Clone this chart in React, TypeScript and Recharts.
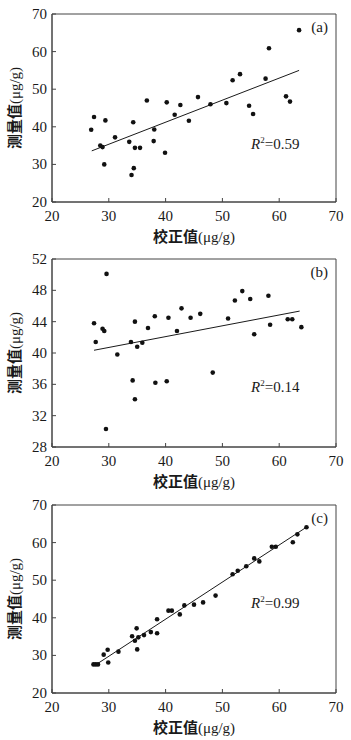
import React from "react"
import { ScatterChart, Scatter, XAxis, YAxis, ReferenceArea, ReferenceLine } from "recharts"

// tick values
const xTicks = [20, 30, 40, 50, 60, 70]
const yTicksA = [20, 30, 40, 50, 60, 70]
const yTicksB = [28, 32, 36, 40, 44, 48, 52]
const yTicksC = [20, 30, 40, 50, 60, 70]

// (a) calibrated vs measured
const calibA = [26.9, 27.4, 28.5, 28.9, 29.2, 29.4, 31.1, 33.6, 34.3, 34.0, 34.4, 34.6, 35.5, 36.7, 38.0, 37.9, 39.9, 40.2, 41.6, 42.6, 44.1, 45.7, 47.9, 50.7, 51.8, 53.1, 54.7, 55.4, 57.6, 58.2, 61.2, 61.9, 63.5]
const measA = [39.2, 42.6, 35.0, 34.6, 30.0, 41.7, 37.2, 36.0, 41.2, 27.2, 29.0, 34.4, 34.4, 47.0, 39.3, 36.2, 33.1, 46.5, 43.2, 45.8, 41.6, 47.9, 46.0, 46.3, 52.4, 54.0, 45.6, 43.4, 52.8, 60.9, 48.1, 46.7, 65.7]
const fitA = [{ x: 27.0, y: 33.6 }, { x: 63.5, y: 55.0 }]

// (b)
const calibB = [27.4, 27.7, 28.9, 29.2, 29.6, 29.5, 31.5, 33.9, 34.6, 34.2, 34.6, 35.0, 35.9, 36.9, 38.1, 38.2, 40.2, 40.5, 42.0, 42.8, 44.4, 46.1, 48.3, 51.0, 52.2, 53.5, 54.9, 55.6, 58.1, 58.4, 61.5, 62.3, 63.9]
const measB = [43.8, 41.4, 43.1, 42.8, 50.1, 30.3, 39.8, 41.4, 44.0, 36.5, 34.1, 40.8, 41.3, 43.2, 44.7, 36.2, 36.4, 44.5, 42.8, 45.7, 44.5, 45.0, 37.5, 44.4, 46.7, 47.9, 46.9, 42.4, 47.3, 43.6, 44.3, 44.3, 43.3]
const fitB = [{ x: 27.4, y: 40.35 }, { x: 63.6, y: 45.35 }]

// (c)
const calibC = [27.3, 27.7, 28.1, 29.1, 29.8, 29.9, 31.7, 34.1, 34.6, 34.9, 35.0, 35.2, 36.2, 37.4, 38.5, 38.5, 40.5, 41.1, 42.5, 43.3, 45.0, 46.6, 48.8, 51.8, 52.7, 54.2, 55.6, 56.5, 58.7, 59.4, 62.4, 63.2, 64.8]
const measC = [27.6, 27.6, 27.6, 30.2, 31.5, 28.1, 31.0, 35.1, 33.9, 37.2, 31.6, 34.8, 35.4, 36.2, 39.6, 35.9, 41.9, 41.9, 40.9, 43.3, 43.5, 44.1, 45.9, 51.6, 52.5, 53.7, 55.8, 55.0, 58.9, 58.9, 60.1, 62.2, 64.1]
const fitC = [{ x: 27.8, y: 27.6 }, { x: 65.0, y: 64.3 }]

const W = 351
const H = 245
const PLOT_LEFT = 52
const PLOT_TOP = 14
const PLOT_H = 188
const INK = "#1a1a1a"
const FRAME = "#444"
const SERIF = "'Liberation Serif', 'Times New Roman', 'DejaVu Serif', serif"
const CJK = "'Noto Sans CJK SC', sans-serif"

function toPoints(xs: number[], ys: number[]) {
  return xs.map((x, i) => ({ x, y: ys[i] }))
}

function XTick(props: any) {
  const { x, y, payload } = props
  return (
    <g>
      <line x1={x} y1={y} x2={x} y2={y - 4} stroke={FRAME} />
      <text x={x} y={y + 19} textAnchor="middle" fontSize={15} fontFamily={SERIF} fill={INK}>
        {payload.value}
      </text>
    </g>
  )
}

function YTick(props: any) {
  const { x, y, payload } = props
  return (
    <g>
      <line x1={x} y1={y} x2={x + 4} y2={y} stroke={FRAME} />
      <text x={x - 5} y={y + 5} textAnchor="end" fontSize={15} fontFamily={SERIF} fill={INK}>
        {payload.value}
      </text>
    </g>
  )
}

// axis title: Chinese part in CJK font, unit in serif
function Title({ cn, x, y, rotate }: { cn: string; x: number; y: number; rotate?: boolean }) {
  return (
    <text
      x={x}
      y={y}
      textAnchor="middle"
      fontSize={15}
      fill={INK}
      transform={rotate ? `rotate(-90 ${x} ${y})` : undefined}
    >
      <tspan fontFamily={CJK} fontWeight={600}>{cn}</tspan>
      <tspan fontFamily={SERIF}>(μg/g)</tspan>
    </text>
  )
}

interface PanelProps {
  xs: number[]
  ys: number[]
  fit: { x: number; y: number }[]
  yDomain: [number, number]
  yTicks: number[]
  tag: string
  r2: string
  r2Y: number
}

function Panel({ xs, ys, fit, yDomain, yTicks, tag, r2, r2Y }: PanelProps) {
  const data = toPoints(xs, ys)
  return (
    <ScatterChart width={W} height={H} margin={{ top: PLOT_TOP, right: 15, bottom: 0, left: 0 }}>
      <XAxis
        type="number"
        dataKey="x"
        domain={[20, 70]}
        ticks={xTicks}
        interval={0}
        tickSize={0}
        tickMargin={0}
        tickLine={false}
        axisLine={{ stroke: FRAME }}
        tick={(p: any) => <XTick {...p} />}
        height={H - PLOT_TOP - PLOT_H}
        allowDataOverflow
      />
      <YAxis
        type="number"
        dataKey="y"
        domain={yDomain}
        ticks={yTicks}
        interval={0}
        tickSize={0}
        tickMargin={0}
        tickLine={false}
        axisLine={{ stroke: FRAME }}
        tick={(p: any) => <YTick {...p} />}
        width={PLOT_LEFT}
        allowDataOverflow
      />
      <ReferenceArea x1={20} x2={70} y1={yDomain[0]} y2={yDomain[1]} fill="none" stroke={FRAME} strokeWidth={1} />
      <ReferenceLine segment={fit} stroke={INK} strokeWidth={1} />
      <Scatter
        data={data}
        isAnimationActive={false}
        shape={(p: any) => <circle cx={p.cx} cy={p.cy} r={2.3} fill="#111" />}
      />
      <text x={328} y={32} textAnchor="end" fontSize={15} fontFamily={SERIF} fill={INK}>
        {tag}
      </text>
      <text x={251} y={r2Y} fontSize={15} fontFamily={SERIF} fill={INK}>
        <tspan fontStyle="italic">R</tspan>
        <tspan dy={-6} fontSize={9}>2</tspan>
        <tspan dy={6}>{"=" + r2}</tspan>
      </text>
      <Title cn="校正值" x={194} y={PLOT_TOP + PLOT_H + 40} />
      <Title cn="测量值" x={20} y={PLOT_TOP + PLOT_H / 2} rotate />
    </ScatterChart>
  )
}

export default function App() {
  return (
    <div
      style={{
        position: "absolute",
        left: 0,
        top: 0,
        width: W,
        height: 740,
        background: "#fff",
        fontFamily: SERIF,
      }}
    >
      <div style={{ position: "absolute", left: 0, top: 0 }}>
        <Panel xs={calibA} ys={measA} fit={fitA} yDomain={[20, 70]} yTicks={yTicksA} tag="(a)" r2="0.59" r2Y={149} />
      </div>
      <div style={{ position: "absolute", left: 0, top: 245 }}>
        <Panel xs={calibB} ys={measB} fit={fitB} yDomain={[28, 52]} yTicks={yTicksB} tag="(b)" r2="0.14" r2Y={147} />
      </div>
      <div style={{ position: "absolute", left: 0, top: 491 }}>
        <Panel xs={calibC} ys={measC} fit={fitC} yDomain={[20, 70]} yTicks={yTicksC} tag="(c)" r2="0.99" r2Y={117} />
      </div>
    </div>
  )
}
